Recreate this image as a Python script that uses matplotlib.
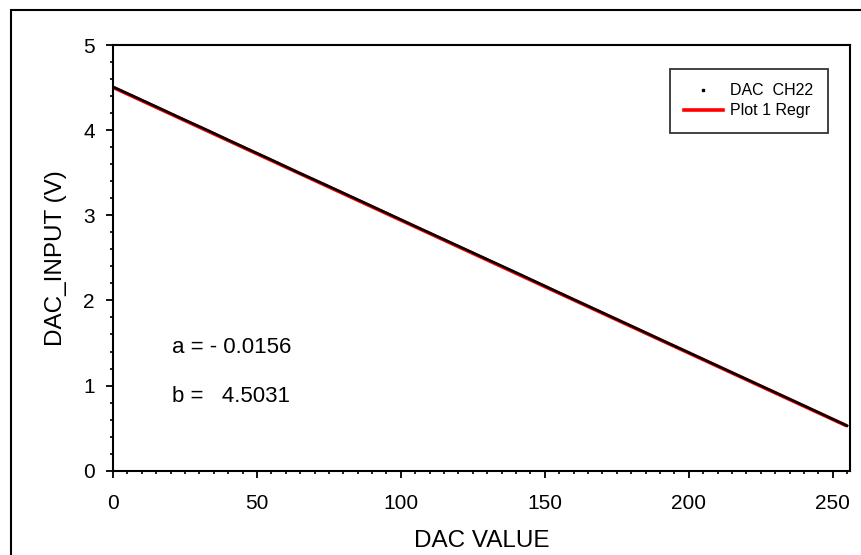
import numpy as np
import matplotlib
matplotlib.use("Agg")
import matplotlib.pyplot as plt
from matplotlib.lines import Line2D
from matplotlib.patches import Rectangle
from matplotlib.ticker import MultipleLocator

plt.rcParams['font.family'] = ['Liberation Sans', 'DejaVu Sans']

dac_code = [0, 8, 16, 24, 32, 40, 48, 56, 64, 72, 80, 88, 96, 104, 112, 120,
            128, 136, 144, 152, 160, 168, 176, 184, 192, 200, 208, 216, 224,
            232, 240, 248, 255]
dac_volt = [4.508, 4.385, 4.260, 4.134, 4.012, 3.885, 3.760, 3.636, 3.508,
            3.386, 3.262, 3.137, 3.012, 2.886, 2.762, 2.638, 2.514, 2.390,
            2.265, 2.138, 2.012, 1.888, 1.763, 1.638, 1.512, 1.388, 1.263,
            1.138, 1.013, 0.889, 0.764, 0.638, 0.528]

# regression coefficients shown on the chart
a = -0.0156
b = 4.5031
regr_x = np.array([0, 255])

fig = plt.figure(figsize=(8.62, 5.55), dpi=100)
ax = fig.add_axes([113/862, 1 - 470.7/555, (850 - 113)/862, (470.7 - 45)/555])

ax.plot(regr_x, a * regr_x + b, color='red', lw=2.6, solid_capstyle='butt', zorder=2)
ax.plot(dac_code, dac_volt, color='black', lw=1.8, zorder=3)

ax.set_xlim(0, 256)
ax.set_ylim(0, 5)
ax.xaxis.set_major_locator(MultipleLocator(50))
ax.xaxis.set_minor_locator(MultipleLocator(5))
ax.yaxis.set_major_locator(MultipleLocator(1))
ax.yaxis.set_minor_locator(MultipleLocator(0.2))
ax.tick_params(which='major', direction='out', length=5, width=1.3, labelsize=15)
ax.tick_params(axis='x', which='major', pad=12)
ax.tick_params(axis='y', which='major', pad=8)
ax.tick_params(which='minor', direction='out', length=2.5, width=1.2)
for s in ax.spines.values():
    s.set_linewidth(1.5)

ax.set_xlabel('DAC VALUE', fontsize=17.5, labelpad=12)
ax.set_ylabel('DAC_INPUT (V)', fontsize=17.5, labelpad=12)

ax.text(20.5, 1.38, 'a = - 0.0156', fontsize=16, va='baseline')
ax.text(20.5, 0.81, 'b =   4.5031', fontsize=16, va='baseline')

handles = [Line2D([], [], color='black', marker='s', markersize=1.5, lw=0),
           Line2D([], [], color='red', lw=2.6)]
leg = ax.legend(handles, ['DAC  CH22', 'Plot 1 Regr'], loc='upper right',
                bbox_to_anchor=(828/862, 1 - 69/555), bbox_transform=fig.transFigure,
                fontsize=11.5, frameon=True, fancybox=False, borderpad=0.9,
                handlelength=2.4, handletextpad=0.5, labelspacing=0.3,
                borderaxespad=0)
leg.get_frame().set_edgecolor('black')
leg.get_frame().set_linewidth(1.3)

fig.patches.append(Rectangle((11/862, -0.2), 1.2, 1 - 10/555 + 0.2,
                             transform=fig.transFigure, fill=False,
                             edgecolor='black', lw=1.5, clip_on=False))

fig.savefig('out.png', dpi=100)
